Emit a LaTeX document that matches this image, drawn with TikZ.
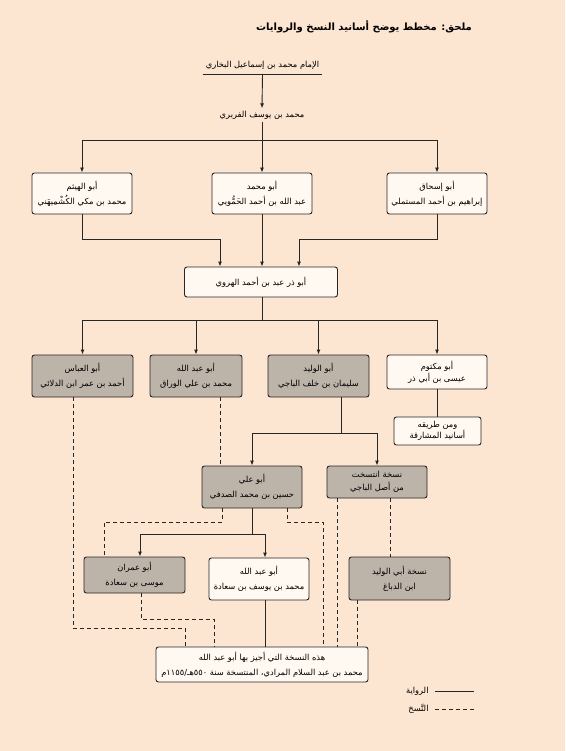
\documentclass[tikz,border=0pt]{standalone}
\usepackage{fontspec}
\newfontfamily\arabicfont[Script=Arabic]{DejaVu Sans}
\TeXXeTstate=1
\usetikzlibrary{arrows.meta}
\definecolor{paper}{HTML}{FCE5D1}
\definecolor{boxgray}{HTML}{BCB3A9}
\definecolor{boxwhite}{HTML}{FFF9F2}
\definecolor{ink}{HTML}{262626}
\newcommand{\rl}[1]{\beginR #1\endR}
\tikzset{
  plain/.style={inner xsep=0pt, inner ysep=2pt, text=black, font=\arabicfont\fontsize{8.3}{15}\selectfont},
  rawi/.style={plain, draw=ink, line width=0.9pt, rounded corners=2.5pt, fill=boxwhite, align=center},
  nuskha/.style={rawi, fill=boxgray},
  arr/.style={-{Latex[length=5pt,width=4pt]}},
  copyline/.style={dash pattern=on 4pt off 3pt}
}
\begin{document}
\begin{tikzpicture}[x=1pt, y=-1pt, line width=0.9pt, draw=ink]
  \fill[paper] (0,0) rectangle (565,751);
  \node[plain, font=\arabicfont\bfseries\fontsize{10}{12}\selectfont] (title) at (364,27) {\rl{ملحق: مخطط يوضح أسانيد النسخ والروايات}};
  \node[plain, anchor=south, minimum width=119pt, inner ysep=4pt] (bukhari) at (262.5,74) {\rl{الإمام محمد بن إسماعيل البخاري}};
  \node[plain] (farabri) at (262,115) {\rl{محمد بن يوسف الفربري}};
  \draw (bukhari.south west) -- (bukhari.south east);
  \draw[arr] (bukhari.south) -- (farabri.north);

  \node[rawi, minimum width=100pt, minimum height=41pt] (haytham) at (82,193.5) {\rl{أبو الهيثم}\\\rl{محمد بن مكي الكُشْمِيهَني}};
  \node[rawi, minimum width=100pt, minimum height=41pt] (hammuyi) at (262,193.5) {\rl{أبو محمد}\\\rl{عبد الله بن أحمد الحَمُّويي}};
  \node[rawi, minimum width=100pt, minimum height=41pt] (mustamli) at (437,193.5) {\rl{أبو إسحاق}\\\rl{إبراهيم بن أحمد المستملي}};
  \coordinate (fan1) at (262,140);
  \draw (farabri.south) -- (fan1);
  \draw (haytham.north |- fan1) -- (mustamli.north |- fan1);
  \foreach \n in {haytham,hammuyi,mustamli}
  \draw[arr] (\n.north |- fan1) -- (\n.north);

  \node[rawi, minimum width=153pt, minimum height=30pt] (harawi) at (261,282) {\rl{أبو ذر عبد بن أحمد الهروي}};
  \coordinate (m1) at (220,239);
  \coordinate (m2) at (299,239);
  \draw[arr] (haytham.south) |- (m1) -- (m1 |- harawi.north);
  \draw[arr] (mustamli.south) |- (m2) -- (m2 |- harawi.north);
  \draw[arr] (hammuyi.south) -- (hammuyi.south |- harawi.north);

  \node[nuskha, minimum width=101pt, minimum height=42pt] (dallai) at (82.5,376) {\rl{أبو العباس}\\\rl{أحمد بن عمر ابن الدلائي}};
  \node[nuskha, minimum width=92pt, minimum height=42pt] (warraq) at (196,376) {\rl{أبو عبد الله}\\\rl{محمد بن علي الوراق}};
  \node[nuskha, minimum width=101pt, minimum height=42pt] (baji) at (318.5,376) {\rl{أبو الوليد}\\\rl{سليمان بن خلف الباجي}};
  \node[rawi, minimum width=100pt, minimum height=34pt] (maktum) at (437,372) {\rl{أبو مكتوم}\\[-3pt]\rl{عيسى بن أبي ذر}};
  \coordinate (fan2) at (262,320);
  \draw (harawi.south -| fan2) -- (fan2);
  \draw (dallai.north |- fan2) -- (maktum.north |- fan2);
  \foreach \n in {dallai,warraq,baji,maktum}
  \draw[arr] (\n.north |- fan2) -- (\n.north);

  \node[rawi, minimum width=87pt, minimum height=28pt] (mashariqa) at (437.5,431) {\rl{ومن طريقه}\\[-4pt]\rl{أسانيد المشارقة}};
  \draw (maktum.south -| mashariqa.north) -- (mashariqa.north);

  \node[nuskha, minimum width=100pt, minimum height=42pt] (sadafi) at (252,487) {\rl{أبو علي}\\\rl{حسين بن محمد الصدفي}};
  \node[nuskha, minimum width=100pt, minimum height=32pt] (intasakhat) at (377,482) {\rl{نسخة انتسخت}\\[-2pt]\rl{من أصل الباجي}};
  \coordinate (fan3) at (341,433);
  \draw (fan3 |- baji.south) -- (fan3);
  \draw (sadafi.north |- fan3) -- (intasakhat.north |- fan3);
  \foreach \n in {sadafi,intasakhat}
  \draw[arr] (\n.north |- fan3) -- (\n.north);
  \coordinate (d1) at (220,0);
  \draw[copyline] (warraq.south -| d1) -- (sadafi.north -| d1);

  \node[nuskha, minimum width=101pt, minimum height=36pt] (musa) at (134.5,575) {\rl{أبو عمران}\\\rl{موسى بن سعادة}};
  \node[rawi, minimum width=100pt, minimum height=42pt] (yusuf) at (259,579) {\rl{أبو عبد الله}\\\rl{محمد بن يوسف بن سعادة}};
  \node[nuskha, minimum width=101pt, minimum height=43pt] (walid) at (399.5,578.5) {\rl{نسخة أبي الوليد}\\\rl{ابن الدباغ}};
  \coordinate (fan4) at (252,534);
  \coordinate (a1) at (140,534);
  \coordinate (a2) at (265,534);
  \draw (sadafi.south) -- (fan4);
  \draw (a1) -- (a2);
  \draw[arr] (a1) -- (a1 |- musa.north);
  \draw[arr] (a2) -- (a2 |- yusuf.north);

  \node[rawi, minimum width=212pt, minimum height=35pt] (final) at (262,664.5) {\rl{هذه النسخة التي أجيز بها أبو عبد الله}\\\rl{محمد بن عبد السلام المرادي، المنتسخة سنة ٥٥٠هـ/١١٥٥م}};
  \draw (yusuf.south -| a2) -- (final.north -| a2);

  \coordinate (c1) at (73,628);
  \coordinate (c2) at (185,628);
  \coordinate (c3) at (222,522);
  \coordinate (c4) at (104,522);
  \coordinate (c5) at (287,522);
  \coordinate (c6) at (323,522);
  \coordinate (c7) at (337,0);
  \coordinate (c8) at (390,0);
  \coordinate (c9) at (141,619);
  \coordinate (c10) at (214,619);
  \coordinate (c11) at (357,0);
  \draw[copyline] (dallai.south -| c1) -- (c1) -- (c2) -- (c2 |- final.north);
  \draw[copyline] (sadafi.south -| c3) -- (c3) -- (c4) -- (c4 |- musa.north);
  \draw[copyline] (sadafi.south -| c5) -- (c5) -- (c6) -- (c6 |- final.north);
  \draw[copyline] (intasakhat.south -| c7) -- (final.north -| c7);
  \draw[copyline] (intasakhat.south -| c8) -- (walid.north -| c8);
  \draw[copyline] (musa.south -| c9) -- (c9) -- (c10) -- (c10 |- final.north);
  \draw[copyline] (walid.south -| c11) -- (final.north -| c11);

  \node[plain, anchor=east] (rwaya) at (429,691) {\rl{الرواية}};
  \node[plain, anchor=east] (naskh) at (429,709) {\rl{النَّسخ}};
  \coordinate (l1) at (435,691);
  \coordinate (l2) at (474,691);
  \draw (l1) -- (l2);
  \draw[copyline] (l1 |- naskh) -- (l2 |- naskh);
\end{tikzpicture}
\end{document}
